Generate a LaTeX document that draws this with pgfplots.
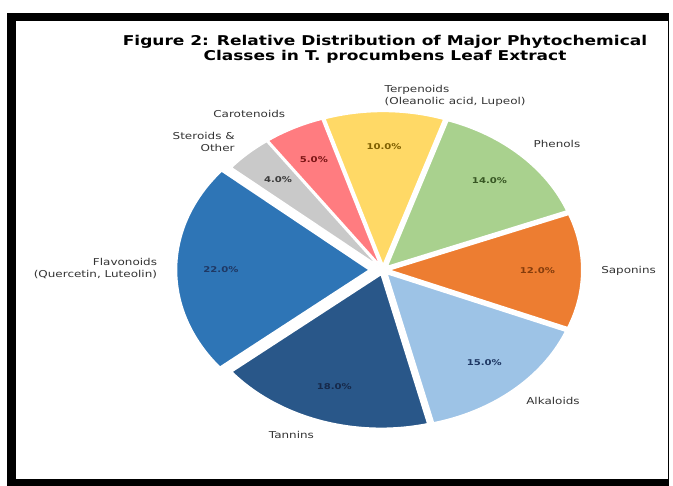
\documentclass[border=0pt]{standalone}
\usepackage{pgfplots}
\pgfplotsset{compat=1.18}
\usepackage{fontspec}
\setmainfont{DejaVu Sans}
\definecolor{cflav}{HTML}{2E75B6}
\definecolor{ctann}{HTML}{295789}
\definecolor{calk}{HTML}{9DC3E6}
\definecolor{csap}{HTML}{ED7D31}
\definecolor{cphen}{HTML}{A9D18E}
\definecolor{cterp}{HTML}{FFD966}
\definecolor{ccar}{HTML}{FF7C80}
\definecolor{cster}{HTML}{C9C9C9}
\definecolor{tflav}{HTML}{1F3864}
\definecolor{ttann}{HTML}{16294A}
\definecolor{talk}{HTML}{1F3864}
\definecolor{tsap}{HTML}{843C0C}
\definecolor{tphen}{HTML}{375623}
\definecolor{tterp}{HTML}{7F6000}
\definecolor{tcar}{HTML}{7B1515}
\definecolor{tster}{HTML}{3A3A3A}
\newcommand\sx[1]{\scalebox{1.26}[1]{#1}}
\tikzset{
  pct/.style={font=\bfseries\fontsize{8}{9.6}\selectfont, inner sep=0pt},
  lab/.style={font=\fontsize{9.5}{12}\selectfont, text=black!80, inner sep=0pt},
}
\def\curang{140}
\newcommand\slice[5]{%
 \pgfmathsetmacro\PSa{\curang}%
 \pgfmathsetmacro\PSb{\curang+3.6*#1}%
 \pgfmathsetmacro\PSm{(\PSa+\PSb)/2}%
 \pgfmathsetmacro\PSc{cos(\PSm)}%
 \pgfmathsetmacro\PSs{sin(\PSm)}%
 \pgfmathsetmacro\PSox{383+#4*193*\PSc}%
 \pgfmathsetmacro\PSoy{216+#4*154*\PSs}%
 \pgfmathsetmacro\PSpx{383+(0.77+#4)*193*\PSc}%
 \pgfmathsetmacro\PSpy{216+(0.77+#4)*154*\PSs}%
 \pgfmathsetmacro\PSlx{383+(1.1+#4)*193*\PSc}%
 \pgfmathsetmacro\PSly{216+(1.1+#4)*154*\PSs}%
 \ifdim\PSc pt>0pt \def\PSanc{west}\def\PSal{left}\else\def\PSanc{east}\def\PSal{right}\fi
 \edef\PSdo{%
  \noexpand\addplot[fill=#2, draw=white, line width=1.6pt, line join=round, domain=\PSa:\PSb, samples=80] ({\PSox+193*cos(x)},{\PSoy+154*sin(x)}) -- (axis cs:\PSox,\PSoy) -- cycle;
  \noexpand\node[pct, text=#3] at (axis cs:\PSpx,\PSpy) {\noexpand\sx{#1.0\noexpand\%}};
  \noexpand\node[lab, anchor=\PSanc, align=\PSal] at (axis cs:\PSlx,\PSly) {\unexpanded{#5}};
 }%
 \PSdo
 \xdef\curang{\PSb}%
}
\begin{document}
\begin{tikzpicture}
\begin{axis}[
  scale only axis, width=673pt, height=486pt,
  xmin=0, xmax=673, ymin=0, ymax=486,
  hide axis, clip=false,
]
\fill[white] (axis cs:0,0) rectangle (axis cs:673,486);
\fill[black] (axis cs:7,0) rectangle (axis cs:669,473);
\fill[white] (axis cs:16,7) rectangle (axis cs:667.5,465);
\node[font=\bfseries\fontsize{13.5}{15}\selectfont, align=center, inner sep=0pt] at (axis cs:385,436.5)
  {\sx{Figure 2: Relative Distribution of Major Phytochemical}\\\sx{Classes in T. procumbens Leaf Extract}};
\slice{22}{cflav}{tflav}{0.07}{\sx{Flavonoids}\\\sx{(Quercetin, Luteolin)}}
\slice{18}{ctann}{ttann}{0.03}{\sx{Tannins}}
\slice{15}{calk}{talk}{0.03}{\sx{Alkaloids}}
\slice{12}{csap}{tsap}{0.03}{\sx{Saponins}}
\slice{14}{cphen}{tphen}{0.03}{\sx{Phenols}}
\slice{10}{cterp}{tterp}{0.03}{\sx{Terpenoids}\\\sx{(Oleanolic acid, Lupeol)}}
\slice{5}{ccar}{tcar}{0.03}{\sx{Carotenoids}}
\slice{4}{cster}{tster}{0.03}{\sx{Steroids \&}\\\sx{Other}}
\end{axis}
\end{tikzpicture}
\end{document}
